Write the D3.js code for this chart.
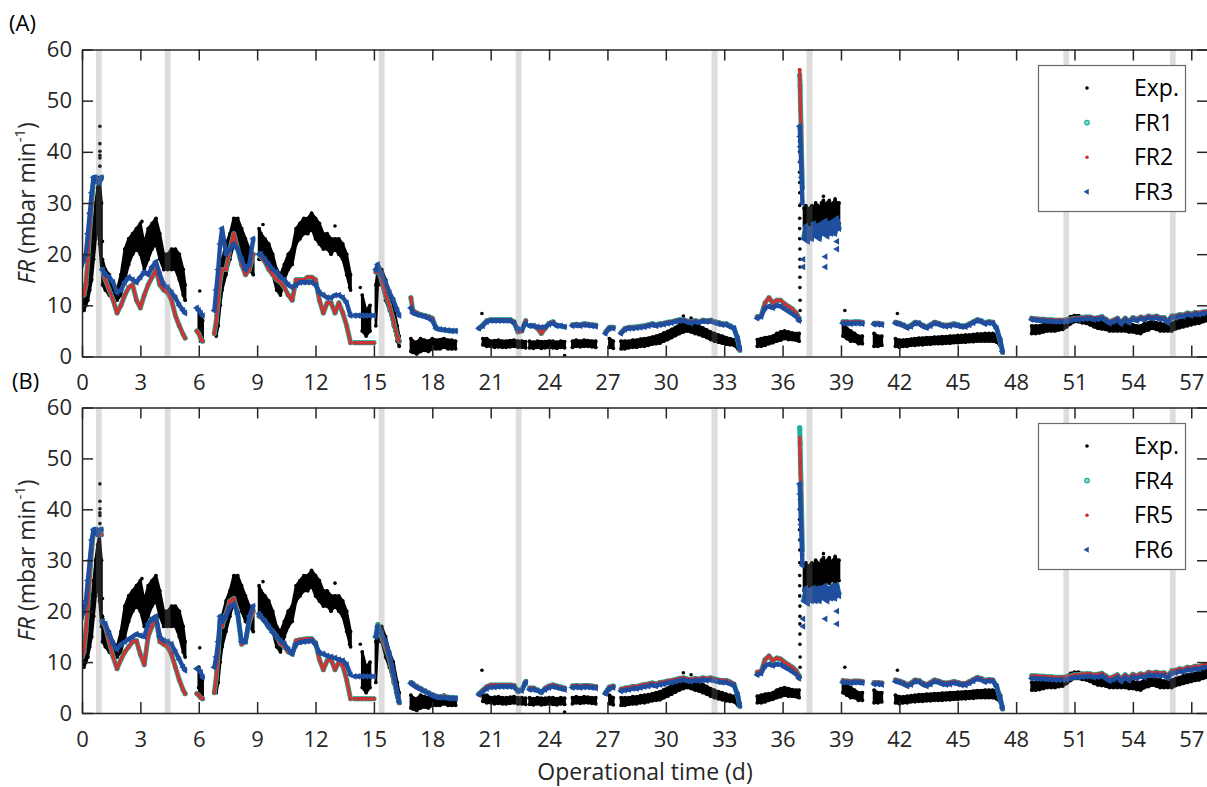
<!DOCTYPE html>
<html><head><meta charset="utf-8">
<script src="https://cdn.jsdelivr.net/npm/d3@7"></script>
<style>
html,body{margin:0;padding:0;background:#fff;}
svg{display:block;font-family:"Open Sans","Noto Sans",sans-serif;}
</style></head><body>
<svg id="chart" width="1207" height="787"></svg>
<script>
// ---------------- DATA ----------------
const xTicks = [0,3,6,9,12,15,18,21,24,27,30,33,36,39,42,45,48,51,54,57];
const yTicks = [0,10,20,30,40,50,60];
const bandStart = [0.72,4.25,15.24,22.29,32.35,37.23,50.43,55.9];
const bandEnd   = [1.01,4.55,15.55,22.59,32.66,37.54,50.72,56.2];

const segDays = [
 [0,0.1,0.2,0.3,0.4,0.5,0.6,0.7,0.8,0.9,1.0],
 [1.05,1.2,1.4,1.6,1.8,2.0,2.2,2.4,2.6,2.8,3.0,3.2,3.4,3.6,3.8,4.0,4.2,4.4,4.6,4.8,5.0,5.2,5.3],
 [5.9,6.0,6.1,6.2],
 [6.8,6.9,7.0,7.1,7.2,7.4,7.6,7.8,8.0,8.2,8.4,8.6,8.8],
 [9.1,9.2,9.4,9.6,9.8,10.0,10.2,10.4,10.6,10.8,11.0,11.2,11.4,11.6,11.8,12.0,12.2,12.4,12.6,12.8,13.0,13.2,13.4,13.6,13.8],
 [14.0,14.2,14.4,14.6,14.8,15.0],
 [15.1,15.2,15.4,15.6,15.8,16.0,16.2,16.3],
 [16.9,17.0,17.2,17.4,17.6,17.8,18.0,18.2,18.4,18.6,18.8,19.0,19.2],
 [20.4,20.6,20.8,21.0,21.2,21.4,21.6,21.8,22.0,22.2,22.4,22.6,22.8],
 [23.0,23.2,23.4,23.6,23.8,24.0,24.2,24.4,24.6,24.8],
 [25.2,25.4,25.6,25.8,26.0,26.2,26.4],
 [26.9,27.1,27.3],
 [27.7,27.9,28.1,28.3,28.5,28.7,28.9,29.1,29.3,29.5,29.7,29.9,30.1,30.3,30.5,30.7,30.9,31.1,31.3,31.5,31.7,31.9,32.1,32.3,32.5,32.7,32.9,33.1,33.3,33.5,33.7,33.8],
 [34.7,34.9,35.1,35.3,35.5,35.7,35.9,36.1,36.3,36.5,36.7,36.85],
 [36.88,36.9,36.92,36.95,36.98,37.02],
 [37.1,37.2,37.3,37.4,37.5,37.6,37.7,37.8,37.9,38.0,38.1,38.2,38.3,38.4,38.5,38.6,38.7,38.8,38.9],
 [39.1,39.3,39.5,39.7,39.9,40.1],
 [40.7,40.9,41.1],
 [41.8,42.0,42.2,42.4,42.6,42.8,43.0,43.2,43.4,43.6,43.8,44.0,44.2,44.4,44.6,44.8,45.0,45.2,45.4,45.6,45.8,46.0,46.2,46.4,46.6,46.8,47.0,47.2,47.3],
 [48.8,49.0,49.2,49.4,49.6,49.8,50.0,50.2,50.4,50.6,50.8,51.0,51.2,51.4,51.6,51.8,52.0,52.2,52.4,52.6,52.8,53.0,53.2,53.4,53.6,53.8,54.0,54.2,54.4,54.6,54.8,55.0,55.2,55.4,55.6,55.8,56.0,56.2,56.4,56.6,56.8,57.0,57.2,57.4,57.6,57.8]
];

// Experimental scatter: lower and upper edge of the point cloud
const expLo = [
 [9,9,10,11,13,15,19,23,26,22,17],
 [14,13,12,11,11,12,15,18,20,21,20,17,19,21,22,19,17,17,17,17,15,12,11],
 [null,5,3,3],
 [null,4,6,10,13,16,19,22,22,20,18,17,16],
 [19,19,19,18,16,13,12,15,17,18,22,23,24,24,25,23,22,21,21,20,21,20,19,16,13],
 [null,null,5,4,5,null],
 [6,14,14,11,9,6,3,2],
 [1,0.8,0.5,1,1.2,1,1.5,1.5,1.5,1.8,1.5,1.5,1.5],
 [null,2.3,2,2,1.8,1.9,1.8,1.8,1.9,2,1.8,1.8,1.7],
 [1.7,1.6,1.8,1.6,1.7,1.8,1.7,1.6,1.8,1.7],
 [1.8,2,1.9,2,2,1.9,1.8],
 [null,1.8,1.6],
 [1.5,1.5,1.7,1.8,1.8,2,2,2.2,2.4,2.5,2.6,3,3.3,3.7,4.1,4.5,4.8,5,4.8,4.5,4.3,4,3.7,3.3,3,2.8,2.6,2.4,2.3,2.2,1.5,null],
 [2,2,2.2,2.5,2.7,3,3.2,3.5,3.3,3.3,3.2,3],
 [null,null,null,null,null,null],
 [24,25,24.5,25,25,24.5,25,25.5,25,25,25.5,25.5,26,25.5,26,26,25.5,26,26],
 [4,3.5,3,3,2.5,2.5],
 [2,2,2.2],
 [2,1.8,2,2,2.2,2.2,2.3,2.3,2.4,2.4,2.5,2.5,2.5,2.6,2.6,2.7,2.7,2.8,2.8,2.9,2.9,3,3,3,3,3,2.8,2,null],
 [4.5,4.5,4.6,4.8,5,5,5,5.2,5.3,5.8,6.4,6.8,6.8,6.6,6.5,6.2,5.8,5.5,5.4,5.3,5,5,5,5,5,4.8,4.8,4.6,4.5,5,5.2,5.5,5.3,5,5,5,5,5.4,5.6,5.8,6,6.2,6.4,6.5,6.8,7]
];
const expHi = [
 [14,13,14,16,19,22,26,30,33,35,30],
 [19,17,16,14,13,16,21,23,24,25,26,22,25,26,27,24,20,20,21,21,20,17,14],
 [null,9,8,7],
 [null,8,11,16,19,22,24,27,27,25,23,21,20],
 [25,24,23,22,20,17,16,18,20,21,25,26,27,27,28,27,26,24,24,23,23,23,22,20,16],
 [null,null,12,9,10,null],
 [14,17,17,15,12,10,6,4],
 [3.5,3,2.8,3.5,3.2,3,3.5,3.2,3.3,3.5,3.2,3.2,3],
 [null,3.5,3.5,3,3.1,3.2,3,3,3.1,3.2,3,3,2.9],
 [3,2.8,3,2.9,2.9,3,3,2.8,3,2.9],
 [3,3.2,3,3.2,3.1,3,3],
 [null,3.5,3],
 [3,3,3,3.2,3.2,3.4,3.5,3.6,3.8,4,4.2,4.6,4.9,5.3,5.7,6.2,6.5,6.6,6.4,6.2,6,5.6,5.2,4.8,4.5,4.2,4,3.7,3.5,3.3,3,null],
 [3.3,3.5,3.7,3.8,4,4.5,4.8,5,4.8,4.6,4.5,4.5],
 [null,null,null,null,null,null],
 [29,29.5,28.5,29,29.5,29,30,29.5,29,30,30.5,29.5,30,30.5,29.5,30,30.5,30,30],
 [6.5,5.5,5,4.5,4,4],
 [4.5,4,4],
 [3.5,3.2,3.2,3.3,3.4,3.5,3.6,3.6,3.7,3.7,3.8,3.8,3.9,3.9,4,4,4.1,4.1,4.2,4.2,4.3,4.4,4.4,4.5,4.5,4.5,4.3,3.5,null],
 [6,6,6,6.2,6.3,6.5,6.5,6.6,6.8,7.3,7.8,8,8,7.8,7.8,7.5,7.2,7,6.8,6.6,6.5,6.5,6.5,6.5,6.3,6.2,6.2,6,6,6.5,6.6,7,6.6,6.5,6.3,6.2,6.5,6.8,7,7.3,7.5,7.6,7.8,8,8.3,8.5]
];
// isolated experimental points
const expOutDays = [0.92,0.92,0.92,0.92,0.92,0.92,1.05,3.08,6.05,9.3,13.0,13.75,14.3,20.55,24.8,30.9,31.3,
 36.87,36.87,36.87,36.87,36.87,36.87,36.87,36.88,36.88,36.88,36.88,36.88,36.88,36.89,36.89,36.89,36.89,36.89,36.9,36.9,36.9,
 38.1,38.7,39.2,41.9];
const expOutVals = [45,41.6,40.1,39.3,38.8,37.2,22.5,26.4,12.8,25.8,25.5,13.5,13.5,8.4,0.2,7.9,7.5,
 56,55,44.5,42,40,38,36,34,32,29.5,27,25,23,21,19,17.5,15.5,13.5,11,9,7,
 31.3,30.8,9.0,8.4];

// Panel A models
const fr1 = [
 [13,12,14,19,25,30,35,35,34,34,35],
 [17,15,13,11,8.5,10,12,13.5,14,11,9.5,12,14,15.5,17,14,13,12.5,11,8,6,4.3,3.6],
 [5,4.5,3.5,3],
 [4.5,7,11,15,17,17,21,24,21,18,16,17,20],
 [20,19.5,18.5,17,16,15,14.5,13.5,12,11,15,15,15,15.5,15.5,15,11,8.5,10.5,10.5,8.5,10.5,8.5,6,2.7],
 [2.7,2.7,2.7,2.7,2.7,2.7],
 [16.5,17,15,12,10,7,4,3],
 [11.5,9,8.5,8.2,8,7.8,7.5,5.5,5.3,5.2,5.1,5,5],
 [5.5,6.2,7,7.2,7.2,7.2,7.2,7.2,7.2,6.8,4.8,5,7],
 [6,6,5.5,4.5,5.5,6.5,6.8,6,6,5.8],
 [6.2,6.3,6.2,6.4,6.3,6.2,6.1],
 [4.8,5.7,5.7],
 [4.7,5.5,5.7,5.7,5.8,5.9,6,6.2,6.4,6.2,6.4,6.5,6.7,6.8,7,7.2,7.2,6.9,6.7,7,6.8,7.1,7,7.1,6.8,6.6,6.4,6.4,6,5.6,3.2,1.2],
 [7.8,8,10.5,11.5,10.5,11,11,10.3,9.8,9.3,8.5,7.5],
 [55,53,49,45,39,33],
 [23.5,25,23,25,23.5,25.5,24,25.5,23.5,25.5,24,26,24,26,24.5,26,24.5,26.5,25],
 [6.8,6.8,6.7,6.8,6.8,6.7],
 [6.5,6.5,6.4],
 [6.7,6.5,6.2,5.8,6.1,6.7,6.6,6.1,5.8,6.2,6.7,6.5,6.2,6.1,6.2,6.4,6.2,6,6,6.4,6.8,7.2,7,6.6,6.8,6.7,5.5,2.7,0.8],
 [7.5,7.4,7.3,7.3,7.2,7.2,7.1,7.1,7.1,7.2,7.3,7.5,7.5,7.6,7.7,7.7,7.5,7.6,7.8,7.3,6.8,7.1,7.5,6.7,7.5,6.9,7.6,7.3,7.7,7.5,7.9,7.7,7.9,7.6,7.6,6.9,7.9,7.9,8.2,8.1,8.5,8.3,8.6,8.5,8.7,8.8]
];
const fr2 = [
 [13,12,14,19,25,30,35,35,34,34,35],
 [17,15,13,11,8.5,10,12,13.5,14,11,9.5,12,14,15.5,17,14,13,12.5,11,8,6,4.3,3.6],
 [5,4.5,3.5,3],
 [4.5,7,11,15,17,17,21,24,21,18,16,17,20],
 [20,19.5,18.5,17,16,15,14.5,13.5,12,11,15,15,15,15.5,15.5,15,11,8.5,10.5,10.5,8.5,10.5,8.5,6,2.7],
 [2.7,2.7,2.7,2.7,2.7,2.7],
 [16.5,17,15,12,10,7,4,3],
 [11.5,9,8.5,8.2,8,7.8,7.5,5.5,5.3,5.2,5.1,5,5],
 [5.5,6.2,7,7.2,7.2,7.2,7.2,7.2,7.2,6.8,4.8,5,7],
 [6,6,5.5,4.5,5.5,6.5,6.8,6,6,5.8],
 [6.2,6.3,6.2,6.4,6.3,6.2,6.1],
 [4.8,5.7,5.7],
 [4.7,5.5,5.7,5.7,5.8,5.9,6,6.2,6.4,6.2,6.4,6.5,6.7,6.8,7,7.2,7.2,6.9,6.7,7,6.8,7.1,7,7.1,6.8,6.6,6.4,6.4,6,5.6,3.2,1.2],
 [7.8,8,10.5,11.5,10.5,11,11,10.3,9.8,9.3,8.5,7.5],
 [56,52,48,44,38,33],
 [23.5,25,23,25,23.5,25.5,24,25.5,23.5,25.5,24,26,24,26,24.5,26,24.5,26.5,25],
 [6.8,6.8,6.7,6.8,6.8,6.7],
 [6.5,6.5,6.4],
 [6.7,6.5,6.2,5.8,6.1,6.7,6.6,6.1,5.8,6.2,6.7,6.5,6.2,6.1,6.2,6.4,6.2,6,6,6.4,6.8,7.2,7,6.6,6.8,6.7,5.5,2.7,0.8],
 [7.5,7.4,7.3,7.3,7.2,7.2,7.1,7.1,7.1,7.2,7.3,7.5,7.5,7.6,7.7,7.7,7.5,7.6,7.8,7.3,6.8,7.1,7.5,6.7,7.5,6.9,7.6,7.3,7.7,7.5,7.9,7.7,7.9,7.6,7.6,6.9,7.9,7.9,8.2,8.1,8.5,8.3,8.6,8.5,8.7,8.8]
];
const fr3 = [
 [18,19,20,24,28,32,35,35,34,34,35],
 [17,16,15.5,14.5,12.5,13,14.5,15.5,15,14.5,15.5,16.5,16,17.5,18.5,16,14,13.5,12.5,11.5,10,9,8.5],
 [9.5,9,8.5,8],
 [9,13,17,22,25,20,21,22,21,19,17,18,23],
 [20,20,19,18,17,16.5,15.5,15,14,13.5,14,14.5,14.5,14.5,14.5,14,12.5,12,11.5,11.5,12,12,11.5,10.5,8],
 [8,8,8,8,8,8],
 [17,18,16,14.5,12.5,11,9,8],
 [9.5,8.5,8.2,8,7.8,7.5,7,5.5,5.3,5.2,5.1,5,5],
 [5.5,6,6.8,7,7,7,7,7,7,6.5,5.3,5.3,6.5],
 [6,6,5.8,5.7,5.8,6.3,6.5,6,6,5.8],
 [6,6.1,6,6.2,6.1,6,5.9],
 [4.5,5.5,5.5],
 [4.5,5.3,5.5,5.5,5.6,5.7,5.8,6,6.2,6,6.2,6.3,6.5,6.6,6.8,7,7,6.7,6.5,6.8,6.6,6.9,6.8,6.9,6.6,6.4,6.2,6.2,5.8,5.5,3.5,1.5],
 [7.5,7.8,9.5,9.8,9.5,10,9.8,9.3,8.8,8.3,7.8,7],
 [45,43,41,38,35,30],
 [23,25.5,22.5,25,23,26,23.5,25.5,23,26,24,26.5,23.5,26,24,26.5,24,27,25],
 [6.5,6.5,6.4,6.5,6.5,6.4],
 [6.3,6.3,6.2],
 [6.5,6.3,6,5.6,5.9,6.5,6.4,5.9,5.6,6,6.5,6.3,6,5.9,6,6.2,6,5.8,5.8,6.2,6.6,7,6.8,6.4,6.6,6.5,5.5,3,1],
 [7.2,7.1,7,7,6.9,6.9,6.8,6.8,6.8,6.9,7,7.2,7.2,7.3,7.4,7.4,7.2,7.3,7.5,7,6.5,6.8,7.2,6.4,7.2,6.6,7.3,7,7.4,7.2,7.6,7.4,7.6,7.3,7.3,6.6,7.6,7.6,7.9,7.8,8.2,8,8.3,8.2,8.4,8.5]
];
// isolated FR3 points below the day-37 plateau
const fr3OutDays = [37.06,37.06,38.2,38.2,38.8,38.8];
const fr3OutVals = [19,17.5,19.5,17.5,21,22.5];
// Panel B models
const fr4 = [
 [11,12,16,21,27,32,36,36,35,35,35],
 [18,17,14,11,8.7,10.5,12,13,14,14.2,11.5,9.5,15,17,18.5,14,13.5,13,11.5,9,6.5,4.5,3.8],
 [3.8,3.5,3,2.8],
 [4,7,12,18,17,19.5,22,22.5,19.5,13.5,14,18,20],
 [19,18.8,18,16.8,16,15,13.6,13,12,11.6,14.2,14.4,14.5,14.6,14.6,13.8,10.5,8.5,10.3,10.5,8.5,10,9.3,6.5,2.8],
 [2.8,2.8,2.8,2.8,2.8,2.8],
 [15,17.4,15,13,10.5,7,3.5,2],
 [6,5.8,5.2,4.8,4.4,4,3.6,3.3,3.2,3.2,3.1,3,3],
 [3.8,4.5,5.2,5.5,5.5,5.5,5.5,5.5,5.5,5.4,4.2,4.5,6.2],
 [4.9,4.9,4.5,4,4.9,5.3,5.5,5.3,5.1,4.9],
 [5.3,5.4,5.3,5.4,5.4,5.3,5.2],
 [4,5.1,5.3],
 [4.7,4.9,5,5.2,5.2,5.4,5.6,5.7,5.9,5.7,6,6.1,6.3,6.4,6.6,6.8,6.9,6.7,6.6,6.8,6.7,6.9,6.8,6.9,6.7,6.5,6.4,6.4,6.1,5.7,3.3,1.3],
 [8,8.2,10.5,11.2,10.3,10.8,10.6,10,9.5,9,8.3,7.3],
 [56,53,49,45,39,32],
 [22.5,24,22,24,22.5,24.5,22.5,24,22.5,24.5,23,24.5,22.5,24.5,23,25,23,25,23.5],
 [6.3,6.3,6.2,6.3,6.3,6.2],
 [6,6,5.9],
 [6.5,6.3,6,5.6,5.9,6.5,6.4,5.9,5.6,6,6.5,6.3,6,5.9,6,6.2,6,5.8,5.8,6.2,6.6,7,6.8,6.4,6.6,6.5,5.3,2.5,0.8],
 [7.3,7.3,7.2,7.2,7.1,7.1,7,7,7,7.1,7.3,7.5,7.5,7.6,7.7,7.7,7.5,7.6,7.8,7.3,6.8,7.1,7.5,6.7,7.5,6.9,7.6,7.3,7.7,7.5,8,7.8,8,7.8,7.9,7.3,8.3,8.4,8.7,8.6,9,8.9,9.2,9.1,9.4,9.5]
];
const fr5 = [
 [11,12,16,21,27,32,36,36,35,35,35],
 [18,17,14,11,8.7,10.5,12,13,14,14.2,11.5,9.5,15,17,18.5,14,13.5,13,11.5,9,6.5,4.5,3.8],
 [3.8,3.5,3,2.8],
 [4,7,12,18,17,19.5,22,22.5,19.5,13.5,14,18,20],
 [19,18.8,18,16.8,16,15,13.6,13,12,11.6,14.2,14.4,14.5,14.6,14.6,13.8,10.5,8.5,10.3,10.5,8.5,10,9.3,6.5,2.8],
 [2.8,2.8,2.8,2.8,2.8,2.8],
 [15,17.2,15,13,10.5,7,3.5,2],
 [6,5.8,5.2,4.8,4.4,4,3.6,3.3,3.2,3.2,3.1,3,3],
 [3.8,4.5,5.2,5.5,5.5,5.5,5.5,5.5,5.5,5.4,4.2,4.5,6.2],
 [4.9,4.9,4.5,4,4.9,5.3,5.5,5.3,5.1,4.9],
 [5.3,5.4,5.3,5.4,5.4,5.3,5.2],
 [4,5.1,5.3],
 [4.7,4.9,5,5.2,5.2,5.4,5.6,5.7,5.9,5.7,6,6.1,6.3,6.4,6.6,6.8,6.9,6.7,6.6,6.8,6.7,6.9,6.8,6.9,6.7,6.5,6.4,6.4,6.1,5.7,3.3,1.3],
 [8,8.2,10.5,11.2,10.3,10.8,10.6,10,9.5,9,8.3,7.3],
 [54,51,47,43,37,31],
 [22.5,24,22,24,22.5,24.5,22.5,24,22.5,24.5,23,24.5,22.5,24.5,23,25,23,25,23.5],
 [6.3,6.3,6.2,6.3,6.3,6.2],
 [6,6,5.9],
 [6.5,6.3,6,5.6,5.9,6.5,6.4,5.9,5.6,6,6.5,6.3,6,5.9,6,6.2,6,5.8,5.8,6.2,6.6,7,6.8,6.4,6.6,6.5,5.3,2.5,0.8],
 [7.3,7.3,7.2,7.2,7.1,7.1,7,7,7,7.1,7.3,7.5,7.5,7.6,7.7,7.7,7.5,7.6,7.8,7.3,6.8,7.1,7.5,6.7,7.5,6.9,7.6,7.3,7.7,7.5,8,7.8,8,7.8,7.9,7.3,8.3,8.4,8.7,8.6,9,8.9,9.2,9.1,9.4,9.5]
];
const fr6 = [
 [19,20,22,26,30,34,36,36,35,36,36],
 [18,17.5,15.5,13.5,12.5,13.5,14,14.5,15,15.5,15.2,15,17.5,18.5,19,15,14.2,14,13.5,12,10.5,9,8.4],
 [8.7,8.5,8,7],
 [9,11,14,19,18,19,20.8,21.4,19.5,14,14,19,21],
 [19.5,19,18,17,15.8,15,14.2,13.6,12.5,11.6,13.5,13.9,14,14.1,14.2,13.5,11.8,11.6,11.2,11,10.8,10.5,10.3,9.5,7.5],
 [7.2,7.2,7.2,7.2,7.2,7.2],
 [15,17,15.5,14,11.5,8,4,2.2],
 [5.8,5.5,5,4.6,4.2,3.8,3.4,3.1,3,3,2.9,2.9,2.8],
 [3.6,4.2,4.8,5.1,5.1,5.2,5.2,5.2,5.2,5.1,4.4,4.4,6],
 [4.6,4.6,4.4,4.2,4.6,5,5.2,5,4.8,4.6],
 [5,5.1,5,5.1,5.1,5,4.9],
 [3.8,4.8,5],
 [4.3,4.5,4.6,4.8,4.8,5,5.2,5.3,5.5,5.3,5.6,5.7,5.9,6,6.2,6.4,6.5,6.3,6.2,6.4,6.3,6.5,6.4,6.5,6.3,6.1,6,6,5.7,5.4,3.5,1.5],
 [7.5,7.8,9.3,9.6,9.3,9.6,9.5,9,8.6,8.1,7.6,6.8],
 [45,43,40,37,34,29],
 [22,24.5,21.5,24,22,24.5,22,24.5,22,24.5,22.5,25,22,24.5,22.5,25,22.5,25,23],
 [6,6,5.9,6,6,5.9],
 [5.7,5.7,5.6],
 [6.2,6,5.7,5.3,5.6,6.2,6.1,5.6,5.3,5.7,6.2,6,5.7,5.6,5.7,5.9,5.7,5.5,5.5,5.9,6.3,6.7,6.5,6.1,6.3,6.2,5.2,2.7,1],
 [6.8,6.8,6.7,6.7,6.6,6.6,6.5,6.5,6.5,6.6,6.8,7,7,7.1,7.2,7.2,7,7.1,7.3,6.8,6.3,6.6,7,6.2,7,6.4,7.1,6.8,7.2,7,7.5,7.3,7.5,7.3,7.4,6.8,7.8,7.9,8.2,8.1,8.5,8.4,8.7,8.6,8.9,9]
];
// isolated FR6 points below the day-37 plateau
const fr6OutDays = [37.06,37.06,38.2,38.8,38.8];
const fr6OutVals = [18.5,17,18.5,17.5,20];

// ---------------- STYLE ----------------
const COL = {exp:'#000000', teal:'#1fae9e', red:'#cc3333', blue:'#1f4e9f', axis:'#262626'};
const svg = d3.select('#chart');
const x = d3.scaleLinear().domain([0,57.86]).range([82,1208]);

const panels = [
  {id:'A', top:49.5, bottom:356.5, tag:'(A)', tagX:9, tagY:31, names:['Exp.','FR1','FR2','FR3'], models:[fr1,fr2,fr3], outD:fr3OutDays, outV:fr3OutVals, legTop:65},
  {id:'B', top:407.5, bottom:713, tag:'(B)', tagX:12, tagY:389, names:['Exp.','FR4','FR5','FR6'], models:[fr4,fr5,fr6], outD:fr6OutDays, outV:fr6OutVals, legTop:423}
];

const triLeft = d3.symbol().type(d3.symbolTriangle).size(20);
const FONT = '"Open Sans","Noto Sans",sans-serif';

panels.forEach(p => {
  const y = d3.scaleLinear().domain([0,60]).range([p.bottom, p.top]);
  svg.append('clipPath').attr('id','clip'+p.id).append('rect')
     .attr('x', x(0)).attr('y', p.top).attr('width', x(57.86)-x(0)).attr('height', p.bottom-p.top);
  const g = svg.append('g').attr('clip-path', `url(#clip${p.id})`);

  // Experimental cloud
  segDays.forEach((days, si) => {
    const pts = days.map((d,i) => ({d, lo:expLo[si][i], hi:expHi[si][i]}));
    const area = d3.area().defined(q => q.lo!=null && q.hi!=null)
      .x(q => x(q.d)).y0(q => y(q.lo)).y1(q => y(q.hi));
    g.append('path').attr('d', area(pts)).attr('fill', COL.exp)
      .attr('stroke', COL.exp).attr('stroke-width', 2.6).attr('stroke-linejoin','round');
    pts.filter(q => q.lo!=null).forEach(q => {
      g.append('circle').attr('cx', x(q.d)).attr('cy', y(q.lo)).attr('r', 1.9).attr('fill', COL.exp);
      g.append('circle').attr('cx', x(q.d)).attr('cy', y(q.hi)).attr('r', 1.9).attr('fill', COL.exp);
    });
  });
  expOutDays.forEach((d,i) => {
    g.append('circle').attr('cx', x(d)).attr('cy', y(expOutVals[i])).attr('r', 1.8).attr('fill', COL.exp);
  });

  // Models
  const styles = [
    {col:COL.teal, lw:5.0, mark:'circle', r:2.5},
    {col:COL.red,  lw:3.4, mark:'circle', r:1.9},
    {col:COL.blue, lw:4.4, mark:'tri'}
  ];
  p.models.forEach((series, k) => {
    const st = styles[k];
    const line = d3.line().defined(q => q.v!=null).x(q => x(q.d)).y(q => y(q.v));
    segDays.forEach((days, si) => {
      const pts = days.map((d,i) => ({d, v:series[si][i]}));
      g.append('path').attr('d', line(pts)).attr('fill','none').attr('stroke', st.col)
        .attr('stroke-width', st.lw).attr('stroke-linejoin','round').attr('stroke-linecap','round');
      pts.filter(q => q.v!=null).forEach(q => {
        if (st.mark === 'circle') {
          g.append('circle').attr('cx', x(q.d)).attr('cy', y(q.v)).attr('r', st.r).attr('fill', st.col);
        } else {
          g.append('path').attr('d', triLeft()).attr('fill', st.col)
            .attr('transform', `translate(${x(q.d)},${y(q.v)}) rotate(-90)`);
        }
      });
    });
  });
  p.outD.forEach((d,i) => {
    g.append('path').attr('d', triLeft()).attr('fill', COL.blue)
      .attr('transform', `translate(${x(d)},${y(p.outV[i])}) rotate(-90)`);
  });

  // Shaded bands (semi-transparent, on top of data)
  bandStart.forEach((s,i) => {
    svg.append('rect').attr('x', x(s)).attr('y', p.top).attr('width', x(bandEnd[i]) - x(s))
      .attr('height', p.bottom - p.top).attr('fill', '#808080').attr('opacity', 0.27);
  });

  // Axes
  const ax = svg.append('g').attr('transform', `translate(0,${p.bottom})`)
    .call(d3.axisBottom(x).tickValues(xTicks).tickSize(-11).tickSizeOuter(0).tickPadding(18).tickFormat(d3.format('d')));
  const axT = svg.append('g').attr('transform', `translate(0,${p.top})`)
    .call(d3.axisTop(x).tickValues(xTicks).tickSize(-11).tickSizeOuter(0).tickFormat(''));
  const ay = svg.append('g').attr('transform', `translate(${x(0)},0)`)
    .call(d3.axisLeft(y).tickValues(yTicks).tickSize(-11).tickSizeOuter(0).tickPadding(10));
  const ayR = svg.append('g').attr('transform', `translate(${x(57.86)},0)`)
    .call(d3.axisRight(y).tickValues(yTicks).tickSize(-11).tickSizeOuter(0).tickFormat(''));
  [ax, axT, ay, ayR].forEach(a => {
    a.selectAll('path.domain').attr('stroke', COL.axis).attr('stroke-width', 1.5);
    a.selectAll('line').attr('stroke', COL.axis).attr('stroke-width', 1.5);
    a.selectAll('text').attr('fill', COL.axis).style('font-size', '22px').style('font-family', FONT);
  });

  // Panel tag
  svg.append('text').attr('x', p.tagX).attr('y', p.tagY).text(p.tag)
    .attr('fill', '#000').style('font-size', '22px');

  // Y label
  const yl = svg.append('text')
    .attr('transform', `translate(35,${(p.top+p.bottom)/2}) rotate(-90)`)
    .attr('text-anchor','middle').attr('fill', COL.axis).style('font-size', '23px');
  yl.append('tspan').style('font-style','italic').text('FR');
  yl.append('tspan').text(' (mbar min');
  yl.append('tspan').attr('baseline-shift','super').style('font-size','15px').text('-1');
  yl.append('tspan').text(')');

  // Legend
  const lg = svg.append('g');
  lg.append('rect').attr('x', 1038.5).attr('y', p.legTop + 0.5).attr('width', 147).attr('height', 146)
    .attr('fill', '#fff').attr('stroke', '#6b6b6b').attr('stroke-width', 1.2);
  p.names.forEach((nm, i) => {
    const cy = p.legTop + 23 + i*34.6;
    if (i === 0) lg.append('circle').attr('cx', 1087).attr('cy', cy).attr('r', 1.8).attr('fill', COL.exp);
    if (i === 1) lg.append('circle').attr('cx', 1087).attr('cy', cy).attr('r', 2.3).attr('fill', '#8fd9cf').attr('stroke', COL.teal).attr('stroke-width', 1.2);
    if (i === 2) lg.append('circle').attr('cx', 1087).attr('cy', cy).attr('r', 1.8).attr('fill', COL.red);
    if (i === 3) lg.append('path').attr('d', d3.symbol().type(d3.symbolTriangle).size(16)()).attr('fill', COL.blue)
                   .attr('transform', `translate(1087,${cy}) rotate(-90)`);
    lg.append('text').attr('x', 1134).attr('y', cy).attr('dy', '0.36em').text(nm)
      .attr('fill', '#000').style('font-size', '23px');
  });
});

// X label
svg.append('text').attr('x', 645).attr('y', 780).attr('text-anchor','middle')
  .attr('fill', '#262626').style('font-size','23px').text('Operational time (d)');
</script></body></html>
